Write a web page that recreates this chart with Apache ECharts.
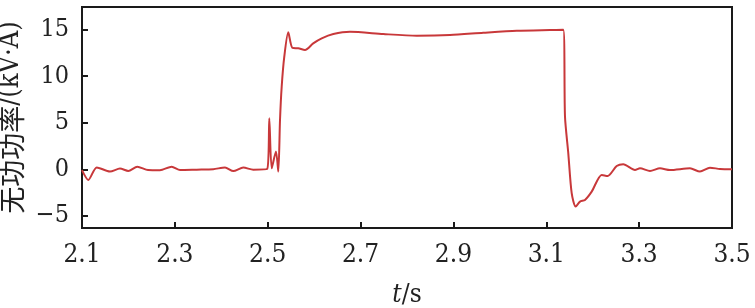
<!DOCTYPE html>
<html>
<head>
<meta charset="utf-8">
<script src="https://cdn.jsdelivr.net/npm/echarts@6/dist/echarts.min.js"></script>
<style>
html,body{margin:0;padding:0;background:#fff;}
#chart{width:755px;height:308px;}
</style>
</head>
<body>
<div id="chart"></div>
<script>
var timeValues = [2.100, 2.1136, 2.1317, 2.1603, 2.1818, 2.1997, 2.2191, 2.2422, 2.268, 2.2932, 2.3111, 2.3471, 2.3828, 2.408, 2.4259, 2.4474, 2.4689, 2.499,
  2.5034, 2.5086, 2.5178, 2.5228, 2.5265, 2.5301, 2.5357, 2.5443, 2.5529, 2.5659, 2.5803, 2.598, 2.6163, 2.6413, 2.6772, 2.7489, 2.8209, 2.8926, 2.9643, 3.0363, 3.108, 3.1366,
  3.1403, 3.1474, 3.1547, 3.1633, 3.1726, 3.1833, 3.1978, 3.2193, 3.2322, 3.2516, 3.2658, 3.2911, 3.3018, 3.3234, 3.3449, 3.3664, 3.4095, 3.431, 3.4525, 3.4741, 3.5];
var reactivePower = [-0.1, -1.15, 0.2, -0.25, 0.07, -0.18, 0.28, -0.08, -0.1, 0.28, -0.08, -0.04, 0.0, 0.2, -0.2, 0.18, -0.05, 0.03,
  5.47, 0.1, 1.9, -0.25, 5.3, 8.85, 12.07, 14.68, 13.03, 12.97, 12.79, 13.5, 14.04, 14.5, 14.75, 14.5, 14.32, 14.39, 14.64, 14.86, 14.93, 14.95,
  5.64, 1.71, -2.57, -4.0, -3.47, -3.29, -2.4, -0.61, -0.72, 0.35, 0.54, -0.08, 0.1, -0.18, 0.1, -0.08, 0.1, -0.25, 0.17, 0.03, 0.0];
var xTicks = [2.1, 2.3, 2.5, 2.7, 2.9, 3.1, 3.3, 3.5];
var yTicks = [-5, 0, 5, 10, 15];

var seriesData = timeValues.map(function (t, i) { return [t, reactivePower[i]]; });

var chart = echarts.init(document.getElementById('chart'));
var serif = "'DejaVu Serif Condensed', 'DejaVu Serif'";
chart.setOption({
  animation: false,
  textStyle: { fontFamily: serif },
  grid: {
    left: 82, right: 23, top: 7, bottom: 80,
    outerBoundsMode: 'none', containLabel: false,
    show: true, borderColor: '#1a1a1a', borderWidth: 2, backgroundColor: 'transparent'
  },
  xAxis: {
    type: 'value', min: 2.1, max: 3.5,
    axisLine: { show: true, onZero: false, lineStyle: { color: '#1a1a1a', width: 2 } },
    axisTick: { show: true, inside: true, length: 6, lineStyle: { color: '#1a1a1a', width: 2 }, customValues: xTicks },
    axisLabel: { fontFamily: serif, fontSize: 26, color: '#222', margin: 14, customValues: xTicks,
      formatter: function (v) { return v.toFixed(1); } },
    splitLine: { show: false },
    name: '{i|t}/s', nameLocation: 'middle', nameGap: 54,
    nameTextStyle: { fontFamily: serif, fontSize: 26, color: '#222',
      rich: { i: { fontFamily: serif, fontStyle: 'italic', fontSize: 26, color: '#222' } } }
  },
  yAxis: {
    type: 'value', min: -6.3, max: 17.4,
    axisLine: { show: true, onZero: false, lineStyle: { color: '#1a1a1a', width: 2 } },
    axisTick: { show: true, inside: true, length: 6, lineStyle: { color: '#1a1a1a', width: 2 }, customValues: yTicks },
    axisLabel: { fontFamily: serif, fontSize: 25, color: '#222', margin: 13, customValues: yTicks,
      formatter: function (v) { return v < 0 ? '\u2212' + Math.abs(v) : String(v); } },
    splitLine: { show: false },
    name: '{c|无功功率}{l|/(kV·A)}', nameLocation: 'middle', nameGap: 44,
    nameTextStyle: { fontFamily: serif, fontSize: 27, color: '#222',
      rich: {
        c: { fontFamily: "'Noto Sans CJK SC'", fontSize: 27, color: '#222' },
        l: { fontFamily: serif, fontSize: 27, color: '#222' }
      } }
  },
  series: [{
    type: 'line', data: seriesData, showSymbol: false, smooth: 0.25,
    lineStyle: { color: '#c8383a', width: 2 }
  }]
});
</script>
</body>
</html>
